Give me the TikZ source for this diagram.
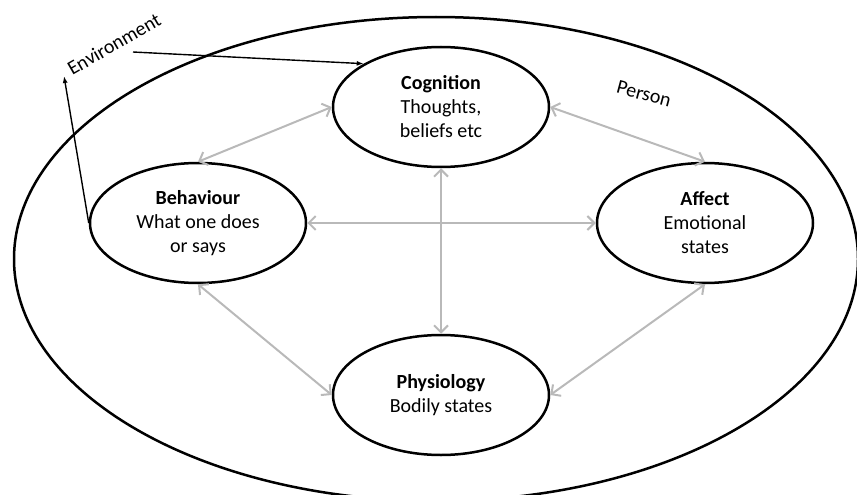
\documentclass[tikz,border=0pt]{standalone}
\usepackage{fontspec}
\setmainfont{Carlito}
\usetikzlibrary{shapes.geometric,arrows.meta}
\definecolor{linkgray}{RGB}{185,185,185}
\begin{document}
\begin{tikzpicture}[x=1pt,y=-1pt,
  every node/.style={font=\fontsize{20}{24}\selectfont},
  stage/.style={ellipse, draw, line width=2.5pt, minimum width=216pt,
    minimum height=120pt, inner sep=0pt, align=center},
  link/.style={draw=linkgray, line width=2pt,
    {Straight Barb[length=7pt,width=14pt]}-{Straight Barb[length=7pt,width=14pt]}},
  envarrow/.style={line width=1.4pt, -{Latex[length=7pt,width=5pt]}}]
\useasboundingbox (0,0) rectangle (857,495);

% the person
\node[ellipse, draw, line width=2.5pt, minimum width=844pt,
  minimum height=484pt, inner sep=0pt] (person) at (436,259) {};

% the four areas
\node[stage] (cog) at (441,107) {\textbf{Cognition}\\Thoughts,\\beliefs etc};
\node[stage] (beh) at (198,223) {\textbf{Behaviour}\\What one does\\or says};
\node[stage] (aff) at (705,223) {\textbf{Affect}\\Emotional\\states};
\node[stage] (phy) at (441,395) {\textbf{Physiology}\\Bodily states};

% two-way links between the areas
\draw[link] (cog.west) -- (beh.north);
\draw[link] (cog.east) -- (aff.north);
\draw[link] (beh.east) -- (aff.west);
\draw[link] (cog.south) -- (phy.north);
\draw[link] (beh.south) -- (phy.west);
\draw[link] (aff.south) -- (phy.east);

% labels
\node[rotate=30] (envlabel) at (114,44) {Environment};
\node[rotate=-15] (personlabel) at (644,94) {Person};

% exchange with the environment
\coordinate (envtip) at (64,76);
\coordinate (envfrom) at (133,52);
\draw[envarrow] (beh.west) -- (envtip);
\draw[envarrow] (envfrom) -- (cog.north west);
\end{tikzpicture}
\end{document}
